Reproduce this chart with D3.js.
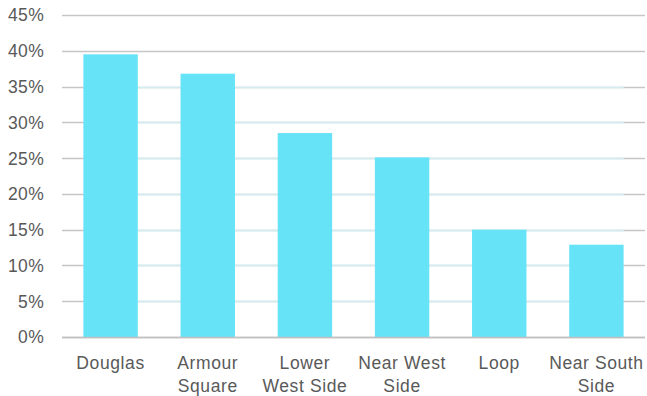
<!DOCTYPE html>
<html>
<head>
<meta charset="utf-8">
<script src="https://cdn.jsdelivr.net/npm/d3@7"></script>
<style>
  html, body { margin: 0; padding: 0; background: #fff; }
  svg text { font-family: "Liberation Sans", Arial, sans-serif; fill: #595959; }
</style>
</head>
<body>
<svg id="chart" width="647" height="396"></svg>
<script>
const categories = ["Douglas", "Armour Square", "Lower West Side", "Near West Side", "Loop", "Near South Side"];
const labelLines = [["Douglas"], ["Armour", "Square"], ["Lower", "West Side"], ["Near West", "Side"], ["Loop"], ["Near South", "Side"]];
const values = [0.395, 0.368, 0.285, 0.251, 0.150, 0.129];
const yTicks = [0, 0.05, 0.10, 0.15, 0.20, 0.25, 0.30, 0.35, 0.40, 0.45];

const svg = d3.select("#chart");
const x = d3.scaleBand().domain(categories).range([62, 645]).paddingInner(0.44).paddingOuter(0.22);
const y = d3.scaleLinear().domain([0, 0.45]).range([337, 15]);

// gridlines
const grid = svg.append("g");
grid.selectAll("line.g").data(yTicks).join("line")
  .attr("x1", 62).attr("x2", 645)
  .attr("y1", d => Math.round(y(d)) + 0.5).attr("y2", d => Math.round(y(d)) + 0.5)
  .attr("stroke", "#c6c6c6").attr("stroke-width", 1.6);
// light tint over gridlines within the bar span
const spanX1 = x(categories[0]);
const spanX2 = x(categories[categories.length - 1]) + x.bandwidth();
grid.selectAll("line.t").data(yTicks.filter(d => d > 0 && d <= 0.35)).join("line")
  .attr("x1", spanX1).attr("x2", spanX2)
  .attr("y1", d => Math.round(y(d)) + 0.5).attr("y2", d => Math.round(y(d)) + 0.5)
  .attr("stroke", "#d3eef2").attr("stroke-width", 1.6);

// bars
svg.append("g").selectAll("rect").data(values).join("rect")
  .attr("x", (d, i) => x(categories[i]))
  .attr("width", x.bandwidth())
  .attr("y", d => y(d))
  .attr("height", d => y(0) - y(d))
  .attr("fill", "#66e3f7");

// baseline on top
svg.append("line")
  .attr("x1", 62).attr("x2", 645)
  .attr("y1", Math.round(y(0)) + 0.5).attr("y2", Math.round(y(0)) + 0.5)
  .attr("stroke", "#c0c0c0").attr("stroke-width", 1.6);

// y axis labels
const yAxis = d3.axisLeft(y).tickValues(yTicks).tickFormat(d3.format(".0%")).tickSize(0).tickPadding(0);
const ya = svg.append("g").attr("transform", "translate(44,0)").call(yAxis);
ya.select(".domain").remove();
ya.selectAll("text").attr("font-size", 17.5).attr("dy", "0.34em")
  .style("font-family", "Liberation Sans, Arial, sans-serif").attr("fill", "#595959")
  .attr("letter-spacing", 0.3);

// x axis labels
const xl = svg.append("g");
categories.forEach((c, i) => {
  const t = xl.append("text")
    .attr("x", x(c) + x.bandwidth() / 2)
    .attr("y", 369)
    .attr("text-anchor", "middle")
    .attr("font-size", 17.5)
    .attr("letter-spacing", 0.6);
  labelLines[i].forEach((ln, j) => {
    t.append("tspan").attr("x", x(c) + x.bandwidth() / 2).attr("dy", j === 0 ? 0 : 22.5).text(ln);
  });
});
</script>
</body>
</html>
